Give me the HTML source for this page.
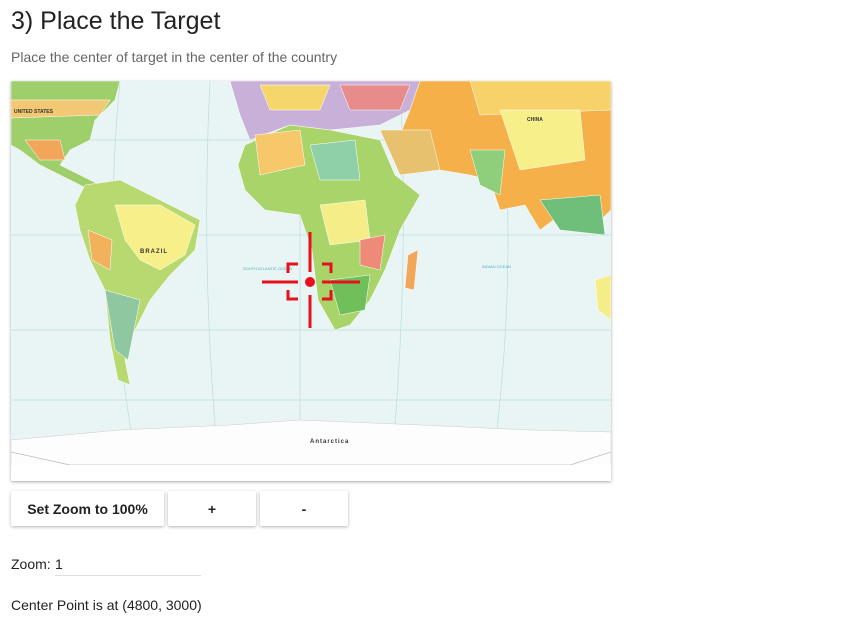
<!DOCTYPE html>
<html><head><meta charset="utf-8"><style>
body{margin:0;width:849px;height:618px;background:#fff;font-family:"Liberation Sans",sans-serif;position:relative;overflow:hidden}
h1{position:absolute;left:11px;top:7px;margin:0;font-size:25px;font-weight:400;color:#222}
.sub{position:absolute;left:11px;top:49px;font-size:14px;color:#666}
#map{position:absolute;left:11px;top:81px;width:600px;height:400px;box-shadow:0 1px 3px rgba(0,0,0,.35)}
.btn{position:absolute;top:491px;height:35px;background:#fff;box-shadow:0 1px 3px rgba(0,0,0,.3);border-radius:2px;font-size:14px;font-weight:700;color:#222;display:flex;align-items:center;justify-content:center}
.t{position:absolute;left:11px;font-size:14px;color:#222}
</style></head><body>
<h1>3) Place the Target</h1>
<div class="sub">Place the center of target in the center of the country</div>
<svg id="map" viewBox="11 81 600 400">
<rect x="11" y="81" width="600" height="400" fill="#e8f5f4"/>
<g stroke="#bcdde0" stroke-width="0.7" fill="none">
<path d="M11 140H611M11 235H611M11 330H611M11 400H611"/>
<path d="M120 81Q100 280 140 481M210 81Q200 280 220 481M300 81V481M400 81Q410 280 390 481M500 81Q520 280 490 481"/>
</g>
<g stroke="#fff" stroke-width="0.5">
<path d="M11 81H120L115 100L95 120L90 140L70 150L60 165L80 175L100 185L90 190L70 180L40 165L20 150L11 145Z" fill="#9fcf6a"/>
<path d="M11 100H110L100 115L11 118Z" fill="#f2c874"/>
<path d="M25 140L60 140L65 160L40 160Z" fill="#f2a65a"/>
<path d="M85 185L120 180L160 200L200 220L195 250L170 275L150 300L135 330L125 360L130 385L118 380L110 340L105 290L90 260L80 230L75 205Z" fill="#b8d870"/>
<path d="M115 205L160 205L195 225L185 255L160 270L140 260L125 240Z" fill="#f7f08a"/>
<path d="M105 290L140 300L128 360L115 350Z" fill="#8fc8a0"/>
<path d="M88 230L112 240L110 270L92 260Z" fill="#f2b25c"/>
<path d="M230 81H420L410 110L380 125L330 130L290 125L250 140L240 115Z" fill="#c9b0d8"/>
<path d="M260 85H330L320 110L270 110Z" fill="#f5d66a"/>
<path d="M340 85H410L400 110L350 110Z" fill="#e88b8b"/>
<path d="M245 145L290 125L330 130L380 140L395 175L420 195L400 230L385 270L370 300L350 325L335 330L318 300L312 250L300 215L265 210L245 190L238 165Z" fill="#a8d46a"/>
<path d="M255 135L300 130L305 165L260 175Z" fill="#f7c86a"/>
<path d="M310 145L355 140L360 180L320 180Z" fill="#8fd0a8"/>
<path d="M320 205L365 200L370 240L330 245Z" fill="#f5ee88"/>
<path d="M330 280L370 275L365 310L340 315Z" fill="#6fbf5a"/>
<path d="M360 240L385 235L380 270L360 265Z" fill="#ee8a78"/>
<path d="M420 81H611V210L590 230L560 215L540 230L525 205L500 210L490 180L470 175L440 170L420 150L400 135L410 110Z" fill="#f5b04a"/>
<path d="M470 81H611V110L480 115Z" fill="#f7d26a"/>
<path d="M500 110L580 110L585 160L520 170Z" fill="#f7f08a"/>
<path d="M470 150L505 150L500 195L480 185Z" fill="#8fcf7a"/>
<path d="M380 130L430 130L440 170L400 175Z" fill="#e8c16e"/>
<path d="M540 200L600 195L605 235L560 230Z" fill="#6fbf7a"/>
<path d="M595 280L611 275V320L598 310Z" fill="#f5ee88"/>
<path d="M408 255L418 250L414 290L405 288Z" fill="#f2a65a"/>
</g>
<path d="M11 440L120 430L230 425L300 420L420 425L530 430L611 432V481H11Z" fill="#fdfdfd" stroke="#ccc" stroke-width=".5"/>
<path d="M11 452L70 465H570L611 452" fill="none" stroke="#bbb" stroke-width=".8"/>
<path d="M11 465H611V481H11Z" fill="#fff"/>
<text x="310" y="443" font-size="6" font-weight="700" fill="#333" font-family="Liberation Sans,sans-serif" letter-spacing="1">Antarctica</text>
<text x="140" y="253" font-size="6" font-weight="700" fill="#333" font-family="Liberation Sans" letter-spacing="1">BRAZIL</text>
<text x="527" y="121" font-size="5" font-weight="700" fill="#333" font-family="Liberation Sans">CHINA</text>
<text x="14" y="113" font-size="5" font-weight="700" fill="#333" font-family="Liberation Sans">UNITED STATES</text>
<text x="243" y="270" font-size="4" fill="#4ab0c0" font-family="Liberation Sans">SOUTH ATLANTIC OCEAN</text>
<text x="482" y="268" font-size="4" fill="#4ab0c0" font-family="Liberation Sans">INDIAN OCEAN</text>
</svg>
<svg style="position:absolute;left:0;top:0" width="849" height="618">
<g stroke="#e8101e" stroke-width="3" fill="none">
<path d="M310 232V272M310 295V328M262 282H298M322 282H360"/>
<path d="M288 273V264H298M322 264H331V273M331 290V299H322M298 299H288V290"/>
</g>
<circle cx="310" cy="282" r="5" fill="#e8101e"/>
</svg>
<div class="btn" style="left:11px;width:153px">Set Zoom to 100%</div>
<div class="btn" style="left:168px;width:88px">+</div>
<div class="btn" style="left:260px;width:88px">-</div>
<div class="t" style="top:556px">Zoom:</div>
<div style="position:absolute;left:55px;top:556px;width:146px;height:19px;border-bottom:1px solid #ddd;font-size:14px;color:#222">1</div>
<div class="t" style="top:597px">Center Point is at (4800, 3000)</div>
</body></html>
